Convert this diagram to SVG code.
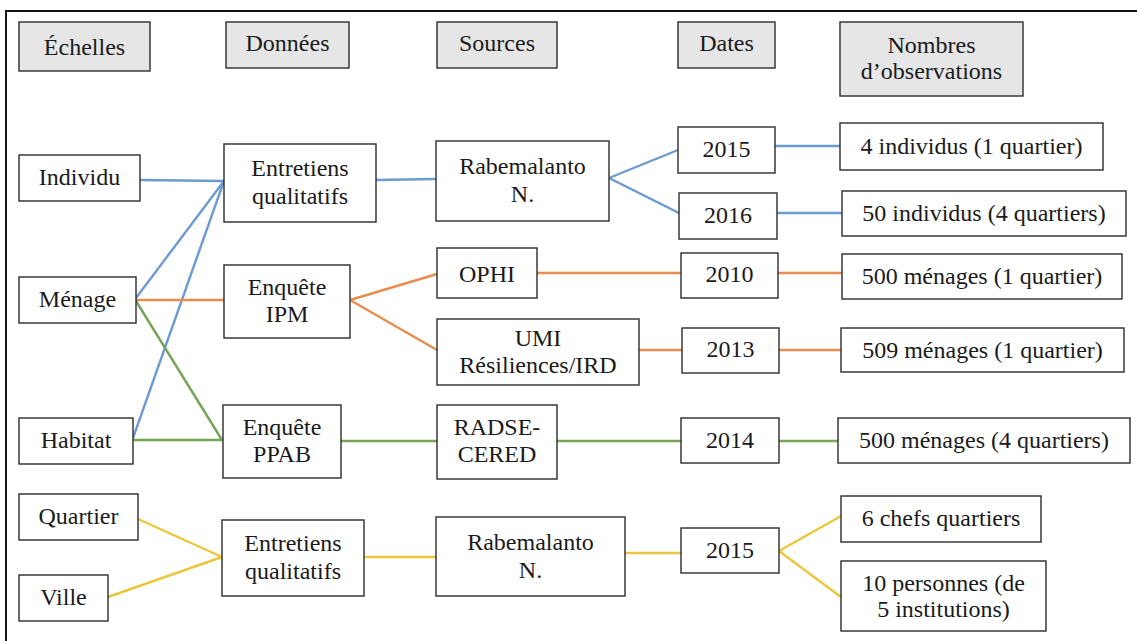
<svg xmlns="http://www.w3.org/2000/svg" width="1137" height="641" viewBox="0 0 1137 641">
<style>
.t text{font-size:24px;fill:#1a1a1a;text-anchor:middle}
.box{fill:#ffffff;stroke:#2b2b2b;stroke-width:1.4}
.hdr{fill:#e6e6e6;stroke:#2b2b2b;stroke-width:1.4}
.c{fill:none;stroke-width:2.4;stroke-linecap:round}
.b{stroke:#6b9bd0}
.o{stroke:#e98d4e}
.g{stroke:#78a458}
.y{stroke:#ecc63c}
</style>
<rect x="0" y="0" width="1137" height="641" fill="#ffffff"/>
<rect x="6" y="11" width="1145" height="650" fill="none" stroke="#111" stroke-width="2"/>

<g id="connectors">
<line class="c b" x1="140" y1="180" x2="224" y2="181"/>
<line class="c b" x1="136" y1="298" x2="224" y2="181"/>
<line class="c b" x1="133" y1="438" x2="224" y2="181"/>
<line class="c b" x1="376" y1="180" x2="436" y2="179"/>
<line class="c b" x1="609" y1="178" x2="678" y2="150"/>
<line class="c b" x1="609" y1="178" x2="679" y2="213"/>
<line class="c b" x1="775" y1="146" x2="840" y2="146"/>
<line class="c b" x1="777" y1="213" x2="842" y2="213"/>
<line class="c o" x1="136" y1="300" x2="224" y2="300"/>
<line class="c o" x1="350" y1="300" x2="437" y2="274"/>
<line class="c o" x1="350" y1="300" x2="437" y2="350"/>
<line class="c o" x1="537" y1="273" x2="681" y2="273"/>
<line class="c o" x1="639" y1="350" x2="682" y2="350"/>
<line class="c o" x1="778" y1="273" x2="842" y2="273"/>
<line class="c o" x1="779" y1="350" x2="841" y2="350"/>
<line class="c g" x1="136" y1="301" x2="222" y2="440"/>
<line class="c g" x1="133" y1="440" x2="222" y2="440"/>
<line class="c g" x1="341" y1="441" x2="437" y2="441"/>
<line class="c g" x1="557" y1="441" x2="681" y2="441"/>
<line class="c g" x1="779" y1="441" x2="838" y2="441"/>
<line class="c y" x1="138" y1="519" x2="222" y2="557"/>
<line class="c y" x1="108" y1="597" x2="222" y2="557"/>
<line class="c y" x1="364" y1="557" x2="436" y2="557"/>
<line class="c y" x1="625" y1="553" x2="681" y2="553"/>
<line class="c y" x1="779" y1="551" x2="841" y2="516"/>
<line class="c y" x1="779" y1="551" x2="841" y2="597"/>
</g>

<g class="t" font-family="'Liberation Serif', 'Times New Roman', Times, 'DejaVu Serif', 'Noto Serif', serif">
<g id="h-echelles"><rect class="hdr" x="19" y="22" width="131" height="49"/><text x="84.5" y="55">Échelles</text></g>
<g id="h-donnees"><rect class="hdr" x="226" y="22" width="123" height="46"/><text x="287.5" y="51">Données</text></g>
<g id="h-sources"><rect class="hdr" x="437" y="22" width="120" height="46"/><text x="497" y="51">Sources</text></g>
<g id="h-dates"><rect class="hdr" x="678" y="22" width="97" height="46"/><text x="726.5" y="51">Dates</text></g>
<g id="h-nombres"><rect class="hdr" x="840" y="22" width="183" height="74"/><text x="931.5" y="53">Nombres</text><text x="931.5" y="79">d’observations</text></g>

<g id="individu"><rect class="box" x="19" y="155" width="121" height="46"/><text x="79.5" y="185">Individu</text></g>
<g id="menage"><rect class="box" x="19" y="277" width="117" height="46"/><text x="77.5" y="307">Ménage</text></g>
<g id="habitat"><rect class="box" x="19" y="418" width="114" height="46"/><text x="76" y="448">Habitat</text></g>
<g id="quartier"><rect class="box" x="19" y="494" width="119" height="46"/><text x="78.5" y="524">Quartier</text></g>
<g id="ville"><rect class="box" x="19" y="575" width="89" height="46"/><text x="63.5" y="605">Ville</text></g>

<g id="entretiens1"><rect class="box" x="224" y="144" width="152" height="78"/><text x="300" y="176">Entretiens</text><text x="300" y="204">qualitatifs</text></g>
<g id="enquete-ipm"><rect class="box" x="224" y="265" width="126" height="73"/><text x="287" y="295">Enquête</text><text x="287" y="322">IPM</text></g>
<g id="enquete-ppab"><rect class="box" x="223" y="405" width="118" height="73"/><text x="282" y="435">Enquête</text><text x="282" y="462">PPAB</text></g>
<g id="entretiens2"><rect class="box" x="222" y="520" width="142" height="76"/><text x="293" y="551">Entretiens</text><text x="293" y="579">qualitatifs</text></g>

<g id="rabemalanto1"><rect class="box" x="436" y="141" width="173" height="80"/><text x="522.5" y="174">Rabemalanto</text><text x="522.5" y="202">N.</text></g>
<g id="ophi"><rect class="box" x="437" y="248" width="100" height="50"/><text x="487" y="282">OPHI</text></g>
<g id="umi"><rect class="box" x="437" y="319" width="202" height="66"/><text x="538" y="346">UMI</text><text x="538" y="373">Résiliences/IRD</text></g>
<g id="radse"><rect class="box" x="437" y="405" width="120" height="74"/><text x="497" y="435">RADSE-</text><text x="497" y="462">CERED</text></g>
<g id="rabemalanto2"><rect class="box" x="436" y="517" width="189" height="79"/><text x="530.5" y="550">Rabemalanto</text><text x="530.5" y="578">N.</text></g>

<g id="d2015a"><rect class="box" x="678" y="127" width="97" height="46"/><text x="726.5" y="157">2015</text></g>
<g id="d2016"><rect class="box" x="679" y="193" width="98" height="46"/><text x="728" y="223">2016</text></g>
<g id="d2010"><rect class="box" x="681" y="253" width="97" height="45"/><text x="729.5" y="282">2010</text></g>
<g id="d2013"><rect class="box" x="682" y="328" width="97" height="45"/><text x="730.5" y="357">2013</text></g>
<g id="d2014"><rect class="box" x="681" y="418" width="98" height="45"/><text x="730" y="448">2014</text></g>
<g id="d2015b"><rect class="box" x="681" y="528" width="98" height="45"/><text x="730" y="558">2015</text></g>

<g id="o1"><rect class="box" x="840" y="123" width="263" height="47"/><text x="971.5" y="154">4 individus (1 quartier)</text></g>
<g id="o2"><rect class="box" x="842" y="191" width="284" height="45"/><text x="984" y="221">50 individus (4 quartiers)</text></g>
<g id="o3"><rect class="box" x="842" y="254" width="280" height="45"/><text x="982" y="284">500 ménages (1 quartier)</text></g>
<g id="o4"><rect class="box" x="841" y="328" width="283" height="44"/><text x="982.5" y="358">509 ménages (1 quartier)</text></g>
<g id="o5"><rect class="box" x="838" y="418" width="292" height="45"/><text x="984" y="448">500 ménages (4 quartiers)</text></g>
<g id="o6"><rect class="box" x="841" y="496" width="200" height="46"/><text x="941" y="526">6 chefs quartiers</text></g>
<g id="o7"><rect class="box" x="841" y="561" width="205" height="70"/><text x="943.5" y="591">10 personnes (de</text><text x="943.5" y="617">5 institutions)</text></g>
</g>
</svg>
